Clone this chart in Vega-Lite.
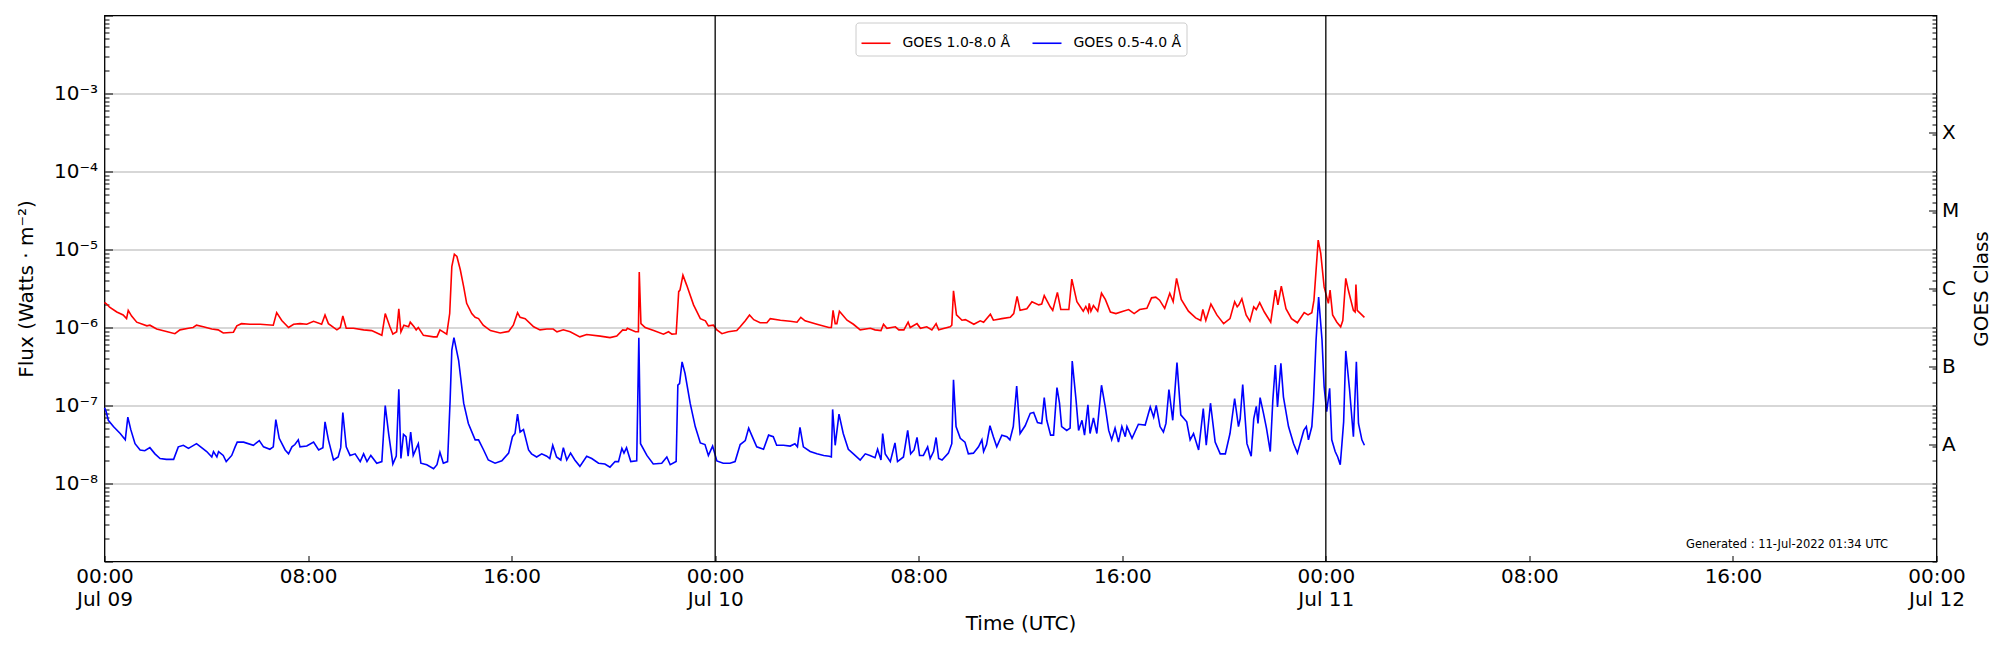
{
  "$schema": "https://vega.github.io/schema/vega-lite/v6.json",
  "width": 1832,
  "height": 546,
  "autosize": {"type": "none"},
  "padding": {"left": 104.5, "top": 15.5, "right": 63.5, "bottom": 88.5},
  "background": "white",
  "config": {
    "view": {"stroke": "black", "strokeWidth": 1.3},
    "font": "DejaVu Sans",
    "axis": {"labelFont": "DejaVu Sans", "titleFont": "DejaVu Sans", "titleFontWeight": "normal", "labelColor": "black", "titleColor": "black", "tickColor": "black", "domain": false, "labelOverlap": false, "labelFlush": false, "labelBound": false}
  },
  "datasets": {
    "long": [
      {"t":"2022-07-09T00:00Z","f":2.09e-6},{"t":"2022-07-09T00:05Z","f":2.00e-6},{"t":"2022-07-09T00:12Z","f":1.82e-6},{"t":"2022-07-09T00:29Z","f":1.58e-6},{"t":"2022-07-09T00:44Z","f":1.45e-6},{"t":"2022-07-09T00:52Z","f":1.30e-6},{"t":"2022-07-09T00:56Z","f":1.66e-6},{"t":"2022-07-09T01:04Z","f":1.40e-6},{"t":"2022-07-09T01:16Z","f":1.17e-6},{"t":"2022-07-09T01:40Z","f":1.05e-6},{"t":"2022-07-09T01:47Z","f":1.07e-6},{"t":"2022-07-09T02:03Z","f":9.55e-7},{"t":"2022-07-09T02:26Z","f":8.91e-7},{"t":"2022-07-09T02:46Z","f":8.32e-7},{"t":"2022-07-09T02:58Z","f":9.33e-7},{"t":"2022-07-09T03:18Z","f":9.77e-7},{"t":"2022-07-09T03:29Z","f":1.00e-6},{"t":"2022-07-09T03:37Z","f":1.07e-6},{"t":"2022-07-09T03:53Z","f":1.02e-6},{"t":"2022-07-09T04:13Z","f":9.55e-7},{"t":"2022-07-09T04:28Z","f":9.33e-7},{"t":"2022-07-09T04:40Z","f":8.51e-7},{"t":"2022-07-09T05:04Z","f":8.71e-7},{"t":"2022-07-09T05:12Z","f":1.05e-6},{"t":"2022-07-09T05:23Z","f":1.12e-6},{"t":"2022-07-09T05:43Z","f":1.10e-6},{"t":"2022-07-09T06:07Z","f":1.10e-6},{"t":"2022-07-09T06:38Z","f":1.07e-6},{"t":"2022-07-09T06:46Z","f":1.55e-6},{"t":"2022-07-09T06:58Z","f":1.23e-6},{"t":"2022-07-09T07:14Z","f":1.00e-6},{"t":"2022-07-09T07:26Z","f":1.10e-6},{"t":"2022-07-09T07:41Z","f":1.12e-6},{"t":"2022-07-09T07:57Z","f":1.10e-6},{"t":"2022-07-09T08:13Z","f":1.20e-6},{"t":"2022-07-09T08:32Z","f":1.10e-6},{"t":"2022-07-09T08:40Z","f":1.45e-6},{"t":"2022-07-09T08:48Z","f":1.12e-6},{"t":"2022-07-09T09:08Z","f":9.33e-7},{"t":"2022-07-09T09:16Z","f":1.00e-6},{"t":"2022-07-09T09:22Z","f":1.41e-6},{"t":"2022-07-09T09:30Z","f":9.77e-7},{"t":"2022-07-09T09:47Z","f":9.77e-7},{"t":"2022-07-09T10:11Z","f":9.33e-7},{"t":"2022-07-09T10:30Z","f":9.12e-7},{"t":"2022-07-09T10:54Z","f":7.94e-7},{"t":"2022-07-09T11:02Z","f":1.51e-6},{"t":"2022-07-09T11:13Z","f":1.02e-6},{"t":"2022-07-09T11:20Z","f":8.22e-7},{"t":"2022-07-09T11:29Z","f":8.81e-7},{"t":"2022-07-09T11:34Z","f":1.74e-6},{"t":"2022-07-09T11:39Z","f":8.81e-7},{"t":"2022-07-09T11:46Z","f":1.07e-6},{"t":"2022-07-09T11:57Z","f":1.02e-6},{"t":"2022-07-09T12:01Z","f":1.17e-6},{"t":"2022-07-09T12:10Z","f":1.02e-6},{"t":"2022-07-09T12:15Z","f":9.33e-7},{"t":"2022-07-09T12:20Z","f":1.00e-6},{"t":"2022-07-09T12:32Z","f":7.94e-7},{"t":"2022-07-09T12:56Z","f":7.59e-7},{"t":"2022-07-09T13:04Z","f":7.59e-7},{"t":"2022-07-09T13:11Z","f":9.33e-7},{"t":"2022-07-09T13:27Z","f":8.22e-7},{"t":"2022-07-09T13:34Z","f":1.51e-6},{"t":"2022-07-09T13:39Z","f":6.03e-6},{"t":"2022-07-09T13:45Z","f":8.71e-6},{"t":"2022-07-09T13:51Z","f":8.13e-6},{"t":"2022-07-09T13:59Z","f":5.50e-6},{"t":"2022-07-09T14:07Z","f":3.31e-6},{"t":"2022-07-09T14:14Z","f":2.04e-6},{"t":"2022-07-09T14:26Z","f":1.51e-6},{"t":"2022-07-09T14:34Z","f":1.35e-6},{"t":"2022-07-09T14:42Z","f":1.30e-6},{"t":"2022-07-09T14:53Z","f":1.07e-6},{"t":"2022-07-09T15:10Z","f":9.12e-7},{"t":"2022-07-09T15:33Z","f":8.51e-7},{"t":"2022-07-09T15:53Z","f":8.91e-7},{"t":"2022-07-09T16:04Z","f":1.07e-6},{"t":"2022-07-09T16:14Z","f":1.55e-6},{"t":"2022-07-09T16:20Z","f":1.35e-6},{"t":"2022-07-09T16:32Z","f":1.30e-6},{"t":"2022-07-09T16:52Z","f":1.02e-6},{"t":"2022-07-09T17:07Z","f":9.33e-7},{"t":"2022-07-09T17:23Z","f":9.55e-7},{"t":"2022-07-09T17:38Z","f":9.55e-7},{"t":"2022-07-09T17:47Z","f":8.81e-7},{"t":"2022-07-09T18:02Z","f":9.33e-7},{"t":"2022-07-09T18:18Z","f":8.81e-7},{"t":"2022-07-09T18:41Z","f":7.59e-7},{"t":"2022-07-09T18:57Z","f":8.13e-7},{"t":"2022-07-09T19:29Z","f":7.76e-7},{"t":"2022-07-09T19:52Z","f":7.41e-7},{"t":"2022-07-09T20:08Z","f":7.76e-7},{"t":"2022-07-09T20:22Z","f":9.33e-7},{"t":"2022-07-09T20:30Z","f":9.23e-7},{"t":"2022-07-09T20:33Z","f":9.77e-7},{"t":"2022-07-09T20:52Z","f":8.81e-7},{"t":"2022-07-09T20:59Z","f":8.81e-7},{"t":"2022-07-09T21:01Z","f":5.13e-6},{"t":"2022-07-09T21:05Z","f":1.12e-6},{"t":"2022-07-09T21:15Z","f":1.00e-6},{"t":"2022-07-09T21:35Z","f":9.12e-7},{"t":"2022-07-09T21:58Z","f":8.22e-7},{"t":"2022-07-09T22:10Z","f":8.81e-7},{"t":"2022-07-09T22:18Z","f":8.22e-7},{"t":"2022-07-09T22:28Z","f":8.32e-7},{"t":"2022-07-09T22:34Z","f":2.88e-6},{"t":"2022-07-09T22:37Z","f":3.02e-6},{"t":"2022-07-09T22:44Z","f":4.68e-6},{"t":"2022-07-09T22:53Z","f":3.47e-6},{"t":"2022-07-09T23:09Z","f":1.95e-6},{"t":"2022-07-09T23:25Z","f":1.30e-6},{"t":"2022-07-09T23:37Z","f":1.22e-6},{"t":"2022-07-09T23:44Z","f":1.05e-6},{"t":"2022-07-09T23:56Z","f":1.07e-6},
      {"t":"2022-07-10T00:04Z","f":9.33e-7},{"t":"2022-07-10T00:16Z","f":8.32e-7},{"t":"2022-07-10T00:31Z","f":8.81e-7},{"t":"2022-07-10T00:51Z","f":9.12e-7},{"t":"2022-07-10T00:59Z","f":1.02e-6},{"t":"2022-07-10T01:11Z","f":1.22e-6},{"t":"2022-07-10T01:21Z","f":1.45e-6},{"t":"2022-07-10T01:31Z","f":1.26e-6},{"t":"2022-07-10T01:46Z","f":1.15e-6},{"t":"2022-07-10T02:02Z","f":1.15e-6},{"t":"2022-07-10T02:10Z","f":1.30e-6},{"t":"2022-07-10T02:34Z","f":1.24e-6},{"t":"2022-07-10T02:57Z","f":1.20e-6},{"t":"2022-07-10T03:13Z","f":1.17e-6},{"t":"2022-07-10T03:22Z","f":1.35e-6},{"t":"2022-07-10T03:32Z","f":1.22e-6},{"t":"2022-07-10T04:00Z","f":1.10e-6},{"t":"2022-07-10T04:28Z","f":1.00e-6},{"t":"2022-07-10T04:34Z","f":1.00e-6},{"t":"2022-07-10T04:38Z","f":1.66e-6},{"t":"2022-07-10T04:43Z","f":1.12e-6},{"t":"2022-07-10T04:47Z","f":1.12e-6},{"t":"2022-07-10T04:53Z","f":1.62e-6},{"t":"2022-07-10T05:11Z","f":1.24e-6},{"t":"2022-07-10T05:26Z","f":1.10e-6},{"t":"2022-07-10T05:42Z","f":9.33e-7},{"t":"2022-07-10T06:06Z","f":9.77e-7},{"t":"2022-07-10T06:17Z","f":9.33e-7},{"t":"2022-07-10T06:31Z","f":9.12e-7},{"t":"2022-07-10T06:37Z","f":1.10e-6},{"t":"2022-07-10T06:45Z","f":9.77e-7},{"t":"2022-07-10T07:05Z","f":1.02e-6},{"t":"2022-07-10T07:13Z","f":9.33e-7},{"t":"2022-07-10T07:25Z","f":9.33e-7},{"t":"2022-07-10T07:35Z","f":1.17e-6},{"t":"2022-07-10T07:40Z","f":1.00e-6},{"t":"2022-07-10T07:56Z","f":1.12e-6},{"t":"2022-07-10T08:04Z","f":9.77e-7},{"t":"2022-07-10T08:19Z","f":1.02e-6},{"t":"2022-07-10T08:31Z","f":9.33e-7},{"t":"2022-07-10T08:41Z","f":1.12e-6},{"t":"2022-07-10T08:47Z","f":9.33e-7},{"t":"2022-07-10T09:14Z","f":1.02e-6},{"t":"2022-07-10T09:18Z","f":1.07e-6},{"t":"2022-07-10T09:22Z","f":2.95e-6},{"t":"2022-07-10T09:29Z","f":1.45e-6},{"t":"2022-07-10T09:42Z","f":1.24e-6},{"t":"2022-07-10T09:50Z","f":1.26e-6},{"t":"2022-07-10T10:10Z","f":1.10e-6},{"t":"2022-07-10T10:25Z","f":1.22e-6},{"t":"2022-07-10T10:33Z","f":1.17e-6},{"t":"2022-07-10T10:49Z","f":1.48e-6},{"t":"2022-07-10T10:56Z","f":1.24e-6},{"t":"2022-07-10T11:16Z","f":1.30e-6},{"t":"2022-07-10T11:36Z","f":1.35e-6},{"t":"2022-07-10T11:44Z","f":1.51e-6},{"t":"2022-07-10T11:52Z","f":2.51e-6},{"t":"2022-07-10T11:59Z","f":1.66e-6},{"t":"2022-07-10T12:15Z","f":1.74e-6},{"t":"2022-07-10T12:27Z","f":2.14e-6},{"t":"2022-07-10T12:43Z","f":1.95e-6},{"t":"2022-07-10T12:50Z","f":2.00e-6},{"t":"2022-07-10T12:56Z","f":2.57e-6},{"t":"2022-07-10T13:10Z","f":1.84e-6},{"t":"2022-07-10T13:16Z","f":1.66e-6},{"t":"2022-07-10T13:27Z","f":2.82e-6},{"t":"2022-07-10T13:35Z","f":1.70e-6},{"t":"2022-07-10T13:54Z","f":1.70e-6},{"t":"2022-07-10T14:01Z","f":4.17e-6},{"t":"2022-07-10T14:13Z","f":2.14e-6},{"t":"2022-07-10T14:28Z","f":1.62e-6},{"t":"2022-07-10T14:34Z","f":1.86e-6},{"t":"2022-07-10T14:40Z","f":1.58e-6},{"t":"2022-07-10T14:42Z","f":2.04e-6},{"t":"2022-07-10T14:46Z","f":1.62e-6},{"t":"2022-07-10T14:52Z","f":1.91e-6},{"t":"2022-07-10T15:02Z","f":1.62e-6},{"t":"2022-07-10T15:11Z","f":2.75e-6},{"t":"2022-07-10T15:20Z","f":2.29e-6},{"t":"2022-07-10T15:32Z","f":1.58e-6},{"t":"2022-07-10T15:45Z","f":1.51e-6},{"t":"2022-07-10T16:02Z","f":1.62e-6},{"t":"2022-07-10T16:15Z","f":1.70e-6},{"t":"2022-07-10T16:28Z","f":1.51e-6},{"t":"2022-07-10T16:41Z","f":1.70e-6},{"t":"2022-07-10T16:58Z","f":1.76e-6},{"t":"2022-07-10T17:09Z","f":2.40e-6},{"t":"2022-07-10T17:19Z","f":2.45e-6},{"t":"2022-07-10T17:28Z","f":2.24e-6},{"t":"2022-07-10T17:40Z","f":1.76e-6},{"t":"2022-07-10T17:52Z","f":2.75e-6},{"t":"2022-07-10T18:00Z","f":2.14e-6},{"t":"2022-07-10T18:08Z","f":4.27e-6},{"t":"2022-07-10T18:19Z","f":2.29e-6},{"t":"2022-07-10T18:36Z","f":1.62e-6},{"t":"2022-07-10T18:53Z","f":1.33e-6},{"t":"2022-07-10T19:05Z","f":1.23e-6},{"t":"2022-07-10T19:10Z","f":1.70e-6},{"t":"2022-07-10T19:17Z","f":1.23e-6},{"t":"2022-07-10T19:29Z","f":2.00e-6},{"t":"2022-07-10T19:43Z","f":1.45e-6},{"t":"2022-07-10T19:59Z","f":1.12e-6},{"t":"2022-07-10T20:14Z","f":1.30e-6},{"t":"2022-07-10T20:25Z","f":2.14e-6},{"t":"2022-07-10T20:31Z","f":1.84e-6},{"t":"2022-07-10T20:35Z","f":1.95e-6},{"t":"2022-07-10T20:42Z","f":2.34e-6},{"t":"2022-07-10T20:52Z","f":1.45e-6},{"t":"2022-07-10T21:01Z","f":1.20e-6},{"t":"2022-07-10T21:10Z","f":1.84e-6},{"t":"2022-07-10T21:16Z","f":1.70e-6},{"t":"2022-07-10T21:24Z","f":2.09e-6},{"t":"2022-07-10T21:35Z","f":1.58e-6},{"t":"2022-07-10T21:50Z","f":1.17e-6},{"t":"2022-07-10T22:01Z","f":3.02e-6},{"t":"2022-07-10T22:07Z","f":1.95e-6},{"t":"2022-07-10T22:15Z","f":3.39e-6},{"t":"2022-07-10T22:26Z","f":1.74e-6},{"t":"2022-07-10T22:39Z","f":1.30e-6},{"t":"2022-07-10T22:53Z","f":1.15e-6},{"t":"2022-07-10T23:09Z","f":1.55e-6},{"t":"2022-07-10T23:18Z","f":1.45e-6},{"t":"2022-07-10T23:27Z","f":1.55e-6},{"t":"2022-07-10T23:32Z","f":2.24e-6},{"t":"2022-07-10T23:42Z","f":1.32e-5},{"t":"2022-07-10T23:48Z","f":8.91e-6},{"t":"2022-07-10T23:56Z","f":3.31e-6},
      {"t":"2022-07-11T00:06Z","f":2.04e-6},{"t":"2022-07-11T00:10Z","f":3.02e-6},{"t":"2022-07-11T00:16Z","f":1.45e-6},{"t":"2022-07-11T00:26Z","f":1.17e-6},{"t":"2022-07-11T00:35Z","f":1.02e-6},{"t":"2022-07-11T00:40Z","f":1.23e-6},{"t":"2022-07-11T00:47Z","f":4.27e-6},{"t":"2022-07-11T00:53Z","f":3.02e-6},{"t":"2022-07-11T01:05Z","f":1.66e-6},{"t":"2022-07-11T01:09Z","f":1.58e-6},{"t":"2022-07-11T01:11Z","f":3.55e-6},{"t":"2022-07-11T01:14Z","f":1.66e-6},{"t":"2022-07-11T01:31Z","f":1.35e-6}
    ],
    "short": [
      {"t":"2022-07-09T00:00Z","f":9.33e-8},{"t":"2022-07-09T00:04Z","f":8.32e-8},{"t":"2022-07-09T00:09Z","f":6.46e-8},{"t":"2022-07-09T00:21Z","f":5.37e-8},{"t":"2022-07-09T00:37Z","f":4.37e-8},{"t":"2022-07-09T00:49Z","f":3.63e-8},{"t":"2022-07-09T00:55Z","f":7.08e-8},{"t":"2022-07-09T01:02Z","f":4.90e-8},{"t":"2022-07-09T01:12Z","f":3.24e-8},{"t":"2022-07-09T01:24Z","f":2.69e-8},{"t":"2022-07-09T01:35Z","f":2.63e-8},{"t":"2022-07-09T01:47Z","f":2.88e-8},{"t":"2022-07-09T01:59Z","f":2.40e-8},{"t":"2022-07-09T02:11Z","f":2.09e-8},{"t":"2022-07-09T02:26Z","f":2.04e-8},{"t":"2022-07-09T02:43Z","f":2.04e-8},{"t":"2022-07-09T02:54Z","f":2.95e-8},{"t":"2022-07-09T03:06Z","f":3.09e-8},{"t":"2022-07-09T03:18Z","f":2.82e-8},{"t":"2022-07-09T03:37Z","f":3.24e-8},{"t":"2022-07-09T03:49Z","f":2.88e-8},{"t":"2022-07-09T04:01Z","f":2.57e-8},{"t":"2022-07-09T04:13Z","f":2.19e-8},{"t":"2022-07-09T04:17Z","f":2.57e-8},{"t":"2022-07-09T04:25Z","f":2.19e-8},{"t":"2022-07-09T04:29Z","f":2.57e-8},{"t":"2022-07-09T04:40Z","f":2.29e-8},{"t":"2022-07-09T04:47Z","f":1.91e-8},{"t":"2022-07-09T05:00Z","f":2.29e-8},{"t":"2022-07-09T05:08Z","f":2.95e-8},{"t":"2022-07-09T05:13Z","f":3.39e-8},{"t":"2022-07-09T05:28Z","f":3.39e-8},{"t":"2022-07-09T05:51Z","f":3.09e-8},{"t":"2022-07-09T06:05Z","f":3.55e-8},{"t":"2022-07-09T06:15Z","f":2.95e-8},{"t":"2022-07-09T06:30Z","f":2.75e-8},{"t":"2022-07-09T06:38Z","f":2.95e-8},{"t":"2022-07-09T06:44Z","f":6.61e-8},{"t":"2022-07-09T06:52Z","f":3.80e-8},{"t":"2022-07-09T07:06Z","f":2.69e-8},{"t":"2022-07-09T07:14Z","f":2.40e-8},{"t":"2022-07-09T07:22Z","f":2.95e-8},{"t":"2022-07-09T07:29Z","f":3.16e-8},{"t":"2022-07-09T07:37Z","f":3.63e-8},{"t":"2022-07-09T07:41Z","f":2.95e-8},{"t":"2022-07-09T07:57Z","f":3.02e-8},{"t":"2022-07-09T08:13Z","f":3.39e-8},{"t":"2022-07-09T08:25Z","f":2.69e-8},{"t":"2022-07-09T08:35Z","f":2.88e-8},{"t":"2022-07-09T08:40Z","f":6.17e-8},{"t":"2022-07-09T08:48Z","f":3.63e-8},{"t":"2022-07-09T09:00Z","f":2.00e-8},{"t":"2022-07-09T09:11Z","f":2.19e-8},{"t":"2022-07-09T09:17Z","f":2.88e-8},{"t":"2022-07-09T09:22Z","f":8.13e-8},{"t":"2022-07-09T09:30Z","f":2.95e-8},{"t":"2022-07-09T09:39Z","f":2.29e-8},{"t":"2022-07-09T09:51Z","f":2.40e-8},{"t":"2022-07-09T10:03Z","f":1.91e-8},{"t":"2022-07-09T10:11Z","f":2.40e-8},{"t":"2022-07-09T10:19Z","f":1.91e-8},{"t":"2022-07-09T10:28Z","f":2.29e-8},{"t":"2022-07-09T10:42Z","f":1.82e-8},{"t":"2022-07-09T10:54Z","f":1.91e-8},{"t":"2022-07-09T11:02Z","f":1.00e-7},{"t":"2022-07-09T11:10Z","f":4.37e-8},{"t":"2022-07-09T11:20Z","f":1.78e-8},{"t":"2022-07-09T11:28Z","f":2.24e-8},{"t":"2022-07-09T11:34Z","f":1.62e-7},{"t":"2022-07-09T11:39Z","f":2.09e-8},{"t":"2022-07-09T11:45Z","f":4.27e-8},{"t":"2022-07-09T11:51Z","f":3.98e-8},{"t":"2022-07-09T11:56Z","f":2.24e-8},{"t":"2022-07-09T12:02Z","f":4.57e-8},{"t":"2022-07-09T12:08Z","f":2.29e-8},{"t":"2022-07-09T12:20Z","f":3.24e-8},{"t":"2022-07-09T12:26Z","f":1.82e-8},{"t":"2022-07-09T12:40Z","f":1.74e-8},{"t":"2022-07-09T12:56Z","f":1.55e-8},{"t":"2022-07-09T13:04Z","f":1.74e-8},{"t":"2022-07-09T13:11Z","f":2.51e-8},{"t":"2022-07-09T13:19Z","f":1.82e-8},{"t":"2022-07-09T13:29Z","f":1.91e-8},{"t":"2022-07-09T13:35Z","f":1.17e-7},{"t":"2022-07-09T13:39Z","f":5.13e-7},{"t":"2022-07-09T13:44Z","f":7.41e-7},{"t":"2022-07-09T13:55Z","f":3.80e-7},{"t":"2022-07-09T14:07Z","f":1.07e-7},{"t":"2022-07-09T14:18Z","f":5.89e-8},{"t":"2022-07-09T14:34Z","f":3.63e-8},{"t":"2022-07-09T14:42Z","f":3.63e-8},{"t":"2022-07-09T14:54Z","f":2.69e-8},{"t":"2022-07-09T15:05Z","f":2.00e-8},{"t":"2022-07-09T15:21Z","f":1.82e-8},{"t":"2022-07-09T15:37Z","f":1.95e-8},{"t":"2022-07-09T15:53Z","f":2.45e-8},{"t":"2022-07-09T16:02Z","f":3.98e-8},{"t":"2022-07-09T16:08Z","f":4.37e-8},{"t":"2022-07-09T16:14Z","f":7.76e-8},{"t":"2022-07-09T16:20Z","f":4.57e-8},{"t":"2022-07-09T16:28Z","f":4.90e-8},{"t":"2022-07-09T16:40Z","f":2.69e-8},{"t":"2022-07-09T16:47Z","f":2.40e-8},{"t":"2022-07-09T16:59Z","f":2.19e-8},{"t":"2022-07-09T17:11Z","f":2.40e-8},{"t":"2022-07-09T17:23Z","f":2.24e-8},{"t":"2022-07-09T17:30Z","f":2.09e-8},{"t":"2022-07-09T17:37Z","f":3.09e-8},{"t":"2022-07-09T17:46Z","f":2.19e-8},{"t":"2022-07-09T17:56Z","f":2.00e-8},{"t":"2022-07-09T18:02Z","f":2.88e-8},{"t":"2022-07-09T18:10Z","f":2.00e-8},{"t":"2022-07-09T18:19Z","f":2.45e-8},{"t":"2022-07-09T18:29Z","f":2.00e-8},{"t":"2022-07-09T18:41Z","f":1.66e-8},{"t":"2022-07-09T18:57Z","f":2.24e-8},{"t":"2022-07-09T19:09Z","f":2.09e-8},{"t":"2022-07-09T19:25Z","f":1.82e-8},{"t":"2022-07-09T19:40Z","f":1.78e-8},{"t":"2022-07-09T19:52Z","f":1.62e-8},{"t":"2022-07-09T20:04Z","f":1.91e-8},{"t":"2022-07-09T20:12Z","f":1.91e-8},{"t":"2022-07-09T20:20Z","f":2.82e-8},{"t":"2022-07-09T20:25Z","f":2.45e-8},{"t":"2022-07-09T20:31Z","f":2.88e-8},{"t":"2022-07-09T20:41Z","f":1.91e-8},{"t":"2022-07-09T20:55Z","f":1.95e-8},{"t":"2022-07-09T21:00Z","f":7.41e-7},{"t":"2022-07-09T21:04Z","f":3.24e-8},{"t":"2022-07-09T21:19Z","f":2.29e-8},{"t":"2022-07-09T21:34Z","f":1.78e-8},{"t":"2022-07-09T21:54Z","f":1.82e-8},{"t":"2022-07-09T22:06Z","f":2.19e-8},{"t":"2022-07-09T22:14Z","f":1.74e-8},{"t":"2022-07-09T22:28Z","f":1.91e-8},{"t":"2022-07-09T22:32Z","f":1.82e-7},{"t":"2022-07-09T22:36Z","f":1.91e-7},{"t":"2022-07-09T22:42Z","f":3.63e-7},{"t":"2022-07-09T22:49Z","f":2.57e-7},{"t":"2022-07-09T23:01Z","f":1.07e-7},{"t":"2022-07-09T23:13Z","f":5.37e-8},{"t":"2022-07-09T23:25Z","f":3.31e-8},{"t":"2022-07-09T23:36Z","f":3.16e-8},{"t":"2022-07-09T23:44Z","f":2.29e-8},{"t":"2022-07-09T23:54Z","f":3.02e-8},
      {"t":"2022-07-10T00:04Z","f":1.95e-8},{"t":"2022-07-10T00:19Z","f":1.82e-8},{"t":"2022-07-10T00:35Z","f":1.82e-8},{"t":"2022-07-10T00:47Z","f":1.91e-8},{"t":"2022-07-10T00:59Z","f":3.16e-8},{"t":"2022-07-10T01:11Z","f":3.55e-8},{"t":"2022-07-10T01:19Z","f":5.13e-8},{"t":"2022-07-10T01:26Z","f":4.17e-8},{"t":"2022-07-10T01:38Z","f":2.95e-8},{"t":"2022-07-10T01:54Z","f":2.75e-8},{"t":"2022-07-10T02:06Z","f":4.17e-8},{"t":"2022-07-10T02:17Z","f":3.98e-8},{"t":"2022-07-10T02:25Z","f":3.09e-8},{"t":"2022-07-10T02:41Z","f":3.09e-8},{"t":"2022-07-10T02:57Z","f":3.02e-8},{"t":"2022-07-10T03:08Z","f":3.24e-8},{"t":"2022-07-10T03:14Z","f":2.95e-8},{"t":"2022-07-10T03:20Z","f":5.25e-8},{"t":"2022-07-10T03:28Z","f":2.95e-8},{"t":"2022-07-10T03:44Z","f":2.57e-8},{"t":"2022-07-10T04:00Z","f":2.40e-8},{"t":"2022-07-10T04:16Z","f":2.29e-8},{"t":"2022-07-10T04:29Z","f":2.24e-8},{"t":"2022-07-10T04:34Z","f":2.19e-8},{"t":"2022-07-10T04:37Z","f":8.91e-8},{"t":"2022-07-10T04:43Z","f":3.09e-8},{"t":"2022-07-10T04:52Z","f":7.76e-8},{"t":"2022-07-10T05:02Z","f":4.37e-8},{"t":"2022-07-10T05:14Z","f":2.75e-8},{"t":"2022-07-10T05:26Z","f":2.40e-8},{"t":"2022-07-10T05:42Z","f":2.00e-8},{"t":"2022-07-10T05:54Z","f":2.40e-8},{"t":"2022-07-10T06:05Z","f":2.29e-8},{"t":"2022-07-10T06:17Z","f":2.14e-8},{"t":"2022-07-10T06:23Z","f":2.75e-8},{"t":"2022-07-10T06:31Z","f":2.00e-8},{"t":"2022-07-10T06:35Z","f":4.37e-8},{"t":"2022-07-10T06:41Z","f":2.40e-8},{"t":"2022-07-10T06:53Z","f":1.91e-8},{"t":"2022-07-10T07:04Z","f":3.31e-8},{"t":"2022-07-10T07:10Z","f":1.91e-8},{"t":"2022-07-10T07:24Z","f":2.19e-8},{"t":"2022-07-10T07:34Z","f":4.79e-8},{"t":"2022-07-10T07:41Z","f":2.40e-8},{"t":"2022-07-10T07:49Z","f":2.69e-8},{"t":"2022-07-10T07:56Z","f":3.89e-8},{"t":"2022-07-10T08:02Z","f":2.29e-8},{"t":"2022-07-10T08:11Z","f":2.29e-8},{"t":"2022-07-10T08:21Z","f":2.95e-8},{"t":"2022-07-10T08:27Z","f":2.09e-8},{"t":"2022-07-10T08:35Z","f":2.57e-8},{"t":"2022-07-10T08:41Z","f":3.89e-8},{"t":"2022-07-10T08:47Z","f":2.09e-8},{"t":"2022-07-10T08:55Z","f":2.00e-8},{"t":"2022-07-10T09:10Z","f":2.45e-8},{"t":"2022-07-10T09:18Z","f":3.24e-8},{"t":"2022-07-10T09:22Z","f":2.14e-7},{"t":"2022-07-10T09:28Z","f":5.37e-8},{"t":"2022-07-10T09:38Z","f":3.80e-8},{"t":"2022-07-10T09:49Z","f":3.39e-8},{"t":"2022-07-10T09:57Z","f":2.40e-8},{"t":"2022-07-10T10:09Z","f":2.45e-8},{"t":"2022-07-10T10:21Z","f":2.95e-8},{"t":"2022-07-10T10:29Z","f":3.63e-8},{"t":"2022-07-10T10:33Z","f":2.57e-8},{"t":"2022-07-10T10:40Z","f":3.16e-8},{"t":"2022-07-10T10:48Z","f":5.50e-8},{"t":"2022-07-10T10:56Z","f":3.98e-8},{"t":"2022-07-10T11:04Z","f":2.95e-8},{"t":"2022-07-10T11:16Z","f":4.17e-8},{"t":"2022-07-10T11:28Z","f":3.98e-8},{"t":"2022-07-10T11:35Z","f":3.63e-8},{"t":"2022-07-10T11:43Z","f":5.37e-8},{"t":"2022-07-10T11:51Z","f":1.78e-7},{"t":"2022-07-10T11:59Z","f":4.37e-8},{"t":"2022-07-10T12:11Z","f":5.50e-8},{"t":"2022-07-10T12:23Z","f":7.94e-8},{"t":"2022-07-10T12:31Z","f":8.13e-8},{"t":"2022-07-10T12:40Z","f":6.03e-8},{"t":"2022-07-10T12:50Z","f":5.89e-8},{"t":"2022-07-10T12:56Z","f":1.26e-7},{"t":"2022-07-10T13:02Z","f":6.46e-8},{"t":"2022-07-10T13:11Z","f":4.17e-8},{"t":"2022-07-10T13:18Z","f":4.17e-8},{"t":"2022-07-10T13:26Z","f":1.70e-7},{"t":"2022-07-10T13:32Z","f":1.07e-7},{"t":"2022-07-10T13:37Z","f":5.37e-8},{"t":"2022-07-10T13:49Z","f":4.79e-8},{"t":"2022-07-10T13:57Z","f":5.13e-8},{"t":"2022-07-10T14:02Z","f":3.72e-7},{"t":"2022-07-10T14:11Z","f":1.17e-7},{"t":"2022-07-10T14:17Z","f":4.79e-8},{"t":"2022-07-10T14:25Z","f":6.46e-8},{"t":"2022-07-10T14:31Z","f":4.17e-8},{"t":"2022-07-10T14:39Z","f":1.02e-7},{"t":"2022-07-10T14:44Z","f":4.37e-8},{"t":"2022-07-10T14:52Z","f":6.92e-8},{"t":"2022-07-10T15:00Z","f":4.37e-8},{"t":"2022-07-10T15:11Z","f":1.82e-7},{"t":"2022-07-10T15:20Z","f":9.55e-8},{"t":"2022-07-10T15:28Z","f":4.79e-8},{"t":"2022-07-10T15:35Z","f":3.63e-8},{"t":"2022-07-10T15:43Z","f":5.13e-8},{"t":"2022-07-10T15:51Z","f":3.39e-8},{"t":"2022-07-10T15:59Z","f":5.37e-8},{"t":"2022-07-10T16:07Z","f":3.98e-8},{"t":"2022-07-10T16:11Z","f":5.37e-8},{"t":"2022-07-10T16:23Z","f":3.80e-8},{"t":"2022-07-10T16:38Z","f":5.75e-8},{"t":"2022-07-10T16:54Z","f":5.62e-8},{"t":"2022-07-10T17:06Z","f":9.55e-8},{"t":"2022-07-10T17:14Z","f":7.08e-8},{"t":"2022-07-10T17:20Z","f":1.00e-7},{"t":"2022-07-10T17:29Z","f":5.37e-8},{"t":"2022-07-10T17:37Z","f":4.57e-8},{"t":"2022-07-10T17:43Z","f":5.89e-8},{"t":"2022-07-10T17:50Z","f":1.60e-7},{"t":"2022-07-10T17:59Z","f":6.46e-8},{"t":"2022-07-10T18:09Z","f":3.55e-7},{"t":"2022-07-10T18:18Z","f":7.59e-8},{"t":"2022-07-10T18:32Z","f":6.17e-8},{"t":"2022-07-10T18:40Z","f":3.63e-8},{"t":"2022-07-10T18:48Z","f":4.37e-8},{"t":"2022-07-10T19:00Z","f":2.69e-8},{"t":"2022-07-10T19:11Z","f":9.12e-8},{"t":"2022-07-10T19:18Z","f":3.09e-8},{"t":"2022-07-10T19:28Z","f":1.07e-7},{"t":"2022-07-10T19:39Z","f":3.39e-8},{"t":"2022-07-10T19:51Z","f":2.40e-8},{"t":"2022-07-10T20:03Z","f":2.40e-8},{"t":"2022-07-10T20:14Z","f":4.37e-8},{"t":"2022-07-10T20:25Z","f":1.23e-7},{"t":"2022-07-10T20:34Z","f":5.37e-8},{"t":"2022-07-10T20:38Z","f":6.76e-8},{"t":"2022-07-10T20:44Z","f":1.86e-7},{"t":"2022-07-10T20:54Z","f":3.24e-8},{"t":"2022-07-10T21:04Z","f":2.24e-8},{"t":"2022-07-10T21:10Z","f":6.76e-8},{"t":"2022-07-10T21:16Z","f":9.77e-8},{"t":"2022-07-10T21:20Z","f":5.89e-8},{"t":"2022-07-10T21:25Z","f":1.26e-7},{"t":"2022-07-10T21:33Z","f":7.94e-8},{"t":"2022-07-10T21:40Z","f":5.13e-8},{"t":"2022-07-10T21:49Z","f":2.57e-8},{"t":"2022-07-10T21:55Z","f":1.17e-7},{"t":"2022-07-10T22:01Z","f":3.31e-7},{"t":"2022-07-10T22:06Z","f":9.55e-8},{"t":"2022-07-10T22:14Z","f":3.47e-7},{"t":"2022-07-10T22:20Z","f":1.29e-7},{"t":"2022-07-10T22:32Z","f":5.37e-8},{"t":"2022-07-10T22:44Z","f":3.24e-8},{"t":"2022-07-10T22:53Z","f":2.45e-8},{"t":"2022-07-10T23:08Z","f":4.79e-8},{"t":"2022-07-10T23:14Z","f":5.37e-8},{"t":"2022-07-10T23:19Z","f":3.63e-8},{"t":"2022-07-10T23:27Z","f":5.37e-8},{"t":"2022-07-10T23:31Z","f":1.17e-7},{"t":"2022-07-10T23:37Z","f":6.92e-7},{"t":"2022-07-10T23:43Z","f":2.45e-6},{"t":"2022-07-10T23:51Z","f":6.92e-7},{"t":"2022-07-10T23:56Z","f":1.74e-7},
      {"t":"2022-07-11T00:02Z","f":8.32e-8},{"t":"2022-07-11T00:09Z","f":1.66e-7},{"t":"2022-07-11T00:14Z","f":3.63e-8},{"t":"2022-07-11T00:22Z","f":2.57e-8},{"t":"2022-07-11T00:28Z","f":2.19e-8},{"t":"2022-07-11T00:34Z","f":1.74e-8},{"t":"2022-07-11T00:38Z","f":3.24e-8},{"t":"2022-07-11T00:42Z","f":6.17e-8},{"t":"2022-07-11T00:47Z","f":5.01e-7},{"t":"2022-07-11T00:56Z","f":1.58e-7},{"t":"2022-07-11T01:05Z","f":3.98e-8},{"t":"2022-07-11T01:12Z","f":3.63e-7},{"t":"2022-07-11T01:17Z","f":5.89e-8},{"t":"2022-07-11T01:25Z","f":3.63e-8},{"t":"2022-07-11T01:31Z","f":3.09e-8}
    ],
    "days": [{"t":"2022-07-10T00:00Z"},{"t":"2022-07-11T00:00Z"}],
    "note": [{"t":"2022-07-11T22:06Z","f":1.5e-9,"label":"Generated : 11-Jul-2022 01:34 UTC"}]
  },
  "layer": [
    {
      "layer": [
        {
          "data": {"name": "long"},
          "mark": {"type": "line", "strokeWidth": 1.6, "interpolate": "linear"},
          "encoding": {
            "x": {
              "field": "t", "type": "temporal",
              "scale": {"type": "utc", "domain": [{"year": 2022, "month": 7, "date": 9, "utc": true}, {"year": 2022, "month": 7, "date": 12, "utc": true}]},
              "axis": {
                "title": "Time (UTC)", "titleFontSize": 20, "titlePadding": 4,
                "labelFontSize": 20, "labelLineHeight": 23, "labelPadding": 11,
                "tickSize": -6, "tickWidth": 1, "grid": false,
                "values": [
                  {"year": 2022, "month": 7, "date": 9, "hours": 0, "utc": true},
                  {"year": 2022, "month": 7, "date": 9, "hours": 8, "utc": true},
                  {"year": 2022, "month": 7, "date": 9, "hours": 16, "utc": true},
                  {"year": 2022, "month": 7, "date": 10, "hours": 0, "utc": true},
                  {"year": 2022, "month": 7, "date": 10, "hours": 8, "utc": true},
                  {"year": 2022, "month": 7, "date": 10, "hours": 16, "utc": true},
                  {"year": 2022, "month": 7, "date": 11, "hours": 0, "utc": true},
                  {"year": 2022, "month": 7, "date": 11, "hours": 8, "utc": true},
                  {"year": 2022, "month": 7, "date": 11, "hours": 16, "utc": true},
                  {"year": 2022, "month": 7, "date": 12, "hours": 0, "utc": true}
                ],
                "labelExpr": "utchours(datum.value) == 0 ? [utcFormat(datum.value, '%H:%M'), utcFormat(datum.value, '%b %d')] : utcFormat(datum.value, '%H:%M')"
              }
            },
            "y": {
              "field": "f", "type": "quantitative",
              "scale": {"type": "log", "domain": [1e-9, 1e-2], "nice": false},
              "axis": {
                "orient": "left",
                "title": "Flux (Watts · m⁻²)", "titleFontSize": 20, "titlePadding": 16.5,
                "labelFontSize": 20, "labelPadding": 15,
                "values": [1e-9,2e-9,3e-9,4e-9,5e-9,6e-9,7e-9,8e-9,9e-9,1e-8,2e-8,3e-8,4e-8,5e-8,6e-8,7e-8,8e-8,9e-8,1e-7,2e-7,3e-7,4e-7,5e-7,6e-7,7e-7,8e-7,9e-7,1e-6,2e-6,3e-6,4e-6,5e-6,6e-6,7e-6,8e-6,9e-6,1e-5,2e-5,3e-5,4e-5,5e-5,6e-5,7e-5,8e-5,9e-5,1e-4,2e-4,3e-4,4e-4,5e-4,6e-4,7e-4,8e-4,9e-4,1e-3,2e-3,3e-3,4e-3,5e-3,6e-3,7e-3,8e-3,9e-3,1e-2],
                "labelExpr": "abs(log(datum.value)/LN10 - round(log(datum.value)/LN10)) < 0.001 && datum.value > 5e-9 && datum.value < 5e-3 ? '10⁻' + ['⁰','¹','²','³','⁴','⁵','⁶','⁷','⁸','⁹'][-round(log(datum.value)/LN10)] : ''",
                "tickSize": {"condition": {"test": "abs(log(datum.value)/LN10 - round(log(datum.value)/LN10)) < 0.001", "value": -8}, "value": -4.5},
                "tickWidth": 1,
                "grid": true, "gridColor": "#b0b0b0", "gridWidth": 1.1,
                "gridOpacity": {"condition": {"test": "abs(log(datum.value)/LN10 - round(log(datum.value)/LN10)) < 0.001 && datum.value > 5e-9 && datum.value < 5e-3", "value": 1}, "value": 0}
              }
            },
            "color": {
              "datum": "GOES 1.0-8.0 Å",
              "scale": {"domain": ["GOES 1.0-8.0 Å", "GOES 0.5-4.0 Å"], "range": ["#ff0000", "#0000ff"]},
              "legend": {
                "orient": "none", "legendX": 751, "legendY": 7, "direction": "horizontal",
                "title": null, "symbolType": "stroke", "symbolSize": 841, "symbolStrokeWidth": 1.6,
                "labelFont": "DejaVu Sans", "labelFontSize": 14, "labelColor": "black", "labelOffset": 11,
                "columnPadding": 18, "padding": 5, "fillColor": "rgba(255,255,255,0.8)",
                "strokeColor": "#cccccc", "cornerRadius": 3
              }
            }
          }
        },
        {
          "data": {"name": "short"},
          "mark": {"type": "line", "strokeWidth": 1.6, "interpolate": "linear"},
          "encoding": {
            "x": {"field": "t", "type": "temporal"},
            "y": {"field": "f", "type": "quantitative"},
            "color": {"datum": "GOES 0.5-4.0 Å"}
          }
        },
        {
          "data": {"name": "days"},
          "mark": {"type": "rule", "color": "black", "strokeWidth": 1.3},
          "encoding": {"x": {"field": "t", "type": "temporal"}}
        }
      ]
    },
    {
      "data": {"name": "note"},
      "mark": {"type": "text", "align": "right", "baseline": "alphabetic", "font": "DejaVu Sans", "fontSize": 11.5, "color": "black"},
      "encoding": {
        "x": {"field": "t", "type": "temporal"},
        "y": {
          "field": "f", "type": "quantitative",
          "scale": {"type": "log", "domain": [1e-9, 1e-2], "nice": false},
          "axis": {
            "orient": "right",
            "title": "GOES Class", "titleFontSize": 20, "titleAngle": 270, "titlePadding": 33,
            "labelFontSize": 20, "labelPadding": 13, "labelAlign": "left", "labelBaseline": "middle",
            "values": [1e-9,2e-9,3e-9,4e-9,5e-9,6e-9,7e-9,8e-9,9e-9,1e-8,2e-8,3e-8,3.1622777e-8,4e-8,5e-8,6e-8,7e-8,8e-8,9e-8,1e-7,2e-7,3e-7,3.1622777e-7,4e-7,5e-7,6e-7,7e-7,8e-7,9e-7,1e-6,2e-6,3e-6,3.1622777e-6,4e-6,5e-6,6e-6,7e-6,8e-6,9e-6,1e-5,2e-5,3e-5,3.1622777e-5,4e-5,5e-5,6e-5,7e-5,8e-5,9e-5,1e-4,2e-4,3e-4,3.1622777e-4,4e-4,5e-4,6e-4,7e-4,8e-4,9e-4,1e-3,2e-3,3e-3,4e-3,5e-3,6e-3,7e-3,8e-3,9e-3,1e-2],
            "labelExpr": "abs(log(datum.value)/LN10 - floor(log(datum.value)/LN10) - 0.5) < 0.001 ? ['A','B','C','M','X'][floor(log(datum.value)/LN10) + 8] : ''",
            "tickSize": {"condition": {"test": "abs(log(datum.value)/LN10 - floor(log(datum.value)/LN10) - 0.5) < 0.001", "value": -8}, "value": -4.5},
            "tickWidth": 1,
            "grid": false
          }
        },
        "text": {"field": "label"}
      }
    }
  ],
  "resolve": {"scale": {"y": "independent"}}
}
